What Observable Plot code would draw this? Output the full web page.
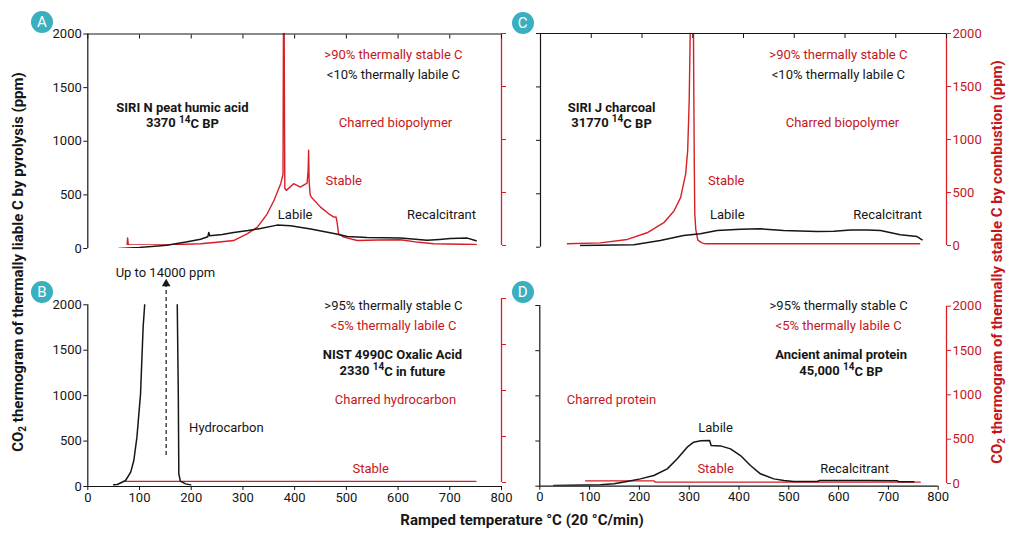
<!DOCTYPE html>
<html><head><meta charset="utf-8">
<script src="https://cdn.jsdelivr.net/npm/d3@7"></script>
<script src="https://cdn.jsdelivr.net/npm/@observablehq/plot@0.6"></script>
<style>
body{margin:0;background:#fff;}
#chart{position:relative;width:1013px;height:533px;font-family:Roboto,sans-serif;overflow:hidden;background:#fff;}
#chart svg{position:absolute;left:0;top:0;}
.title{position:absolute;font-weight:bold;font-size:15px;white-space:nowrap;transform:translate(-50%,-50%);}
.vt{transform:translate(-50%,-50%) rotate(-90deg);}
.badge{position:absolute;width:22px;height:22px;margin:-11px 0 0 -11px;border-radius:50%;background:#3aafbf;color:#fff;font-size:15px;text-align:center;line-height:22px;}
sub{font-size:10px;vertical-align:-3px;line-height:0;}
</style></head><body><div id="chart"></div>
<script>
// ---------- scales / ticks ----------
const temperatureTicks = [0, 100, 200, 300, 400, 500, 600, 700, 800];
const ppmTicks = [0, 500, 1000, 1500, 2000];

// ---------- Panel A: SIRI N peat humic acid ----------
const aPyroT = [60, 100, 153, 190, 218, 232, 234, 236, 260, 282, 310, 334, 366, 392, 431, 476, 502, 540, 605, 656, 680, 701, 734, 751];
const aPyroV = [0, 10, 30, 60, 87, 110, 150, 118, 130, 150, 168, 187, 218, 212, 181, 140, 112, 103, 97, 78, 85, 93, 97, 72];
const aCombT = [76, 77, 78, 79, 150, 218, 250, 282, 308, 328, 347, 360, 373, 377.5, 378.5, 379.5, 381, 384, 398, 411, 424, 426, 427, 428, 430, 432, 450, 466, 476, 480, 482, 485, 495, 521, 560, 605, 640, 669, 751];
const aCombV = [6, 72, 20, 8, 6, 16, 30, 47, 110, 173, 299, 425, 583, 670, 2300, 2300, 540, 520, 583, 551, 589, 700, 898, 600, 480, 457, 362, 299, 268, 270, 220, 110, 79, 47, 52, 54, 30, 16, 9];

// ---------- Panel B: NIST 4990C Oxalic Acid ----------
const bPyroT = [50, 57, 73, 83, 89, 95, 102, 107, 110, 150, 173, 175, 176, 179, 189, 199];
const bPyroV = [18, 22, 66, 158, 286, 543, 1020, 1754, 2000, 14000, 2000, 1020, 139, 59, 29, 18];
const bCombT = [73, 750];
const bCombV = [8, 8];
const bArrow = [{t: 151.5, from: 341, to: 2231}];

// ---------- Panel C: SIRI J charcoal ----------
const cPyroT = [79, 184, 236, 282, 315, 348, 394, 433, 479, 545, 578, 611, 644, 670, 709, 742, 752];
const cPyroV = [16, 22, 62, 109, 125, 156, 169, 172, 156, 147, 150, 162, 162, 156, 116, 100, 69];
const cCombT = [53, 118, 171, 210, 243, 263, 276, 286, 290, 293, 295, 297, 301, 302, 303, 304, 306, 310, 318, 325, 500, 747];
const cCombV = [16, 25, 57, 120, 215, 325, 452, 673, 894, 1368, 2000, 2400, 2400, 1500, 800, 300, 150, 50, 25, 16, 16, 16];

// ---------- Panel D: Ancient animal protein ----------
const dPyroT = [28, 122, 149, 175, 202, 229, 256, 276, 296, 309, 323, 341, 343, 344, 363, 383, 403, 423, 443, 470, 490, 510, 557, 562, 657, 718, 721, 751];
const dPyroV = [7, 15, 26, 52, 81, 118, 192, 303, 432, 487, 502, 505, 470, 450, 446, 413, 339, 229, 137, 81, 63, 52, 52, 63, 63, 59, 48, 48];
const dCombT = [92, 229, 232, 764];
const dCombV = [30, 30, 15, 15];

// ---------- annotations (text, °C, ppm) ----------
const aRedNotes = [[">90% thermally stable C", 591, 1805], ["Charred biopolymer", 595, 1172], ["Stable", 495, 633]];
const aInkNotes = [["<10% thermally labile C", 591, 1619], ["Labile", 401, 316], ["Recalcitrant", 684, 316]];
const aBoldNotes = [["SIRI N peat humic acid", 183, 1312], ["3370 ¹⁴C BP", 183, 1172]];
const cRedNotes = [[">90% thermally stable C", 587, 1803], ["Charred biopolymer", 595, 1167], ["Stable", 366, 624]];
const cInkNotes = [["<10% thermally labile C", 587, 1616], ["Labile", 368, 306], ["Recalcitrant", 684, 306]];
const cBoldNotes = [["SIRI J charcoal", 140, 1307], ["31770 ¹⁴C BP", 140, 1167]];
const bRedNotes = [["<5% thermally labile C", 591, 1772], ["Charred hydrocarbon", 595, 958], ["Stable", 547, 198]];
const bInkNotes = [[">95% thermally stable C", 591, 1992], ["Hydrocarbon", 268, 649], ["Up to 14000 ppm", 150, 2356]];
const bBoldNotes = [["NIST 4990C Oxalic Acid", 589, 1453], ["2330 ¹⁴C in future", 589, 1277]];
const dRedNotes = [["<5% thermally labile C", 600, 1779], ["Charred protein", 144, 960], ["Stable", 353, 196]];
const dInkNotes = [[">95% thermally stable C", 600, 2000], ["Labile", 353, 650], ["Recalcitrant", 632, 196]];
const dBoldNotes = [["Ancient animal protein", 605, 1458], ["45,000 ¹⁴C BP", 605, 1281]];

// ---------- rendering ----------
const chart = document.getElementById("chart");
const RED = "#d71f26", RED_TEXT = "#c4161c", INK = "#161616";
const series = (T, V) => T.map((t, i) => ({t, v: V[i]}));
const notes = (arr) => arr.map(([label, t, v]) => ({label, t, v}));
const fmt = (d) => String(d);
const blank = () => "";

function supers(svg) {
  d3.select(svg).selectAll("text").each(function () {
    const s = this.textContent;
    if (!s.includes("¹⁴")) return;
    const [a, b] = s.split("¹⁴");
    const t = d3.select(this);
    t.text(null);
    t.append("tspan").text(a);
    t.append("tspan").attr("dy", "-0.42em").attr("font-size", "10").text("14");
    t.append("tspan").attr("dy", "0.42em").text(b);
  });
}

function layer(frame, xMax, marks) {
  const svg = Plot.plot({
    width: 1013, height: 533,
    marginLeft: frame[0], marginRight: 1013 - frame[1],
    marginTop: frame[2], marginBottom: 533 - frame[3],
    x: {domain: [0, xMax], axis: null},
    y: {domain: [0, 2000], axis: null},
    style: {background: "transparent", fontFamily: "Roboto", fontSize: "13px", overflow: "visible", color: INK},
    marks
  });
  supers(svg);
  chart.appendChild(svg);
}

function textMarks(red, ink, bold) {
  return [
    Plot.text(notes(red), {x: "t", y: "v", text: "label", fill: RED_TEXT, fontSize: 13}),
    Plot.text(notes(ink), {x: "t", y: "v", text: "label", fill: INK, fontSize: 13}),
    Plot.text(notes(bold), {x: "t", y: "v", text: "label", fill: INK, fontSize: 13, fontWeight: "bold"})
  ];
}

function pyroLayer(frame, data, {labels, top, bottom, extra = [], annot}) {
  const marks = [
    Plot.ruleX([0], {stroke: INK, strokeWidth: 1.2}),
    Plot.axisY({ticks: ppmTicks, anchor: "left", tickSize: 4, tickPadding: 2, label: null, tickFormat: labels ? fmt : blank, color: INK})
  ];
  if (top) marks.push(
    Plot.ruleY([2000], {stroke: INK, strokeWidth: 1.2}),
    Plot.axisX({ticks: temperatureTicks, anchor: "top", tickSize: -4, label: null, tickFormat: blank, color: INK})
  );
  if (bottom) marks.push(
    Plot.ruleY([0], {stroke: INK, strokeWidth: 1.2}),
    Plot.axisX({ticks: temperatureTicks, anchor: "bottom", tickSize: 4, tickPadding: 2, label: null, tickFormat: fmt, color: INK})
  );
  marks.push(Plot.line(data, {x: "t", y: "v", stroke: INK, strokeWidth: 1.5, clip: true}));
  marks.push(...extra, ...annot);
  layer(frame, 800, marks);
}

function combLayer(frame, xMax, data, {labels, width = 1.4}) {
  layer(frame, xMax, [
    Plot.ruleX([xMax], {stroke: RED, strokeWidth: 1.3}),
    Plot.axisY({ticks: ppmTicks, anchor: "right", tickSize: 4, tickPadding: 2, label: null, tickFormat: labels ? fmt : blank, color: RED_TEXT, stroke: RED}),
    Plot.line(data, {x: "t", y: "v", stroke: RED, strokeWidth: width, clip: true})
  ]);
}

// Panel A
combLayer([87.3, 501, 33, 245], 800, series(aCombT, aCombV), {labels: false});
pyroLayer([87.3, 501, 33.5, 248], series(aPyroT, aPyroV), {labels: true, top: true, bottom: false, annot: textMarks(aRedNotes, aInkNotes, aBoldNotes)});
// Panel C
combLayer([540, 946, 33, 245], 800, series(cCombT, cCombV), {labels: true});
pyroLayer([540, 946, 33, 246.7], series(cPyroT, cPyroV), {labels: false, top: true, bottom: false, annot: textMarks(cRedNotes, cInkNotes, cBoldNotes)});
// Panel B
combLayer([87.3, 501, 298, 482], 800, series(bCombT, bCombV), {labels: false, width: 2});
pyroLayer([87.3, 501, 304.3, 486], series(bPyroT, bPyroV), {labels: true, top: false, bottom: true,
  extra: [
    Plot.ruleX(bArrow, {x: "t", y1: "from", y2: "to", stroke: INK, strokeWidth: 1.2, strokeDasharray: "4,3"}),
    Plot.dot(bArrow, {x: "t", y: "to", symbol: "triangle", r: 3.2, fill: INK, stroke: "none"})
  ],
  annot: textMarks(bRedNotes, bInkNotes, bBoldNotes)});
// Panel D (red axis sits slightly right of the 800 °C end of the x axis)
combLayer([539.3, 946, 305.7, 483], 816.7, series(dCombT, dCombV), {labels: true});
pyroLayer([539.3, 937.7, 305, 485.7], series(dPyroT, dPyroV), {labels: false, top: false, bottom: true, annot: textMarks(dRedNotes, dInkNotes, dBoldNotes)});

// Titles and panel badges
function html(cls, x, y, inner, color) {
  const el = document.createElement("div");
  el.className = cls;
  el.style.left = x + "px"; el.style.top = y + "px";
  if (color) el.style.color = color;
  el.innerHTML = inner;
  chart.appendChild(el);
}
html("title vt", 18, 262, "CO<sub>2</sub> thermogram of thermally liable C by pyrolysis (ppm)", INK);
html("title vt", 997, 262, "CO<sub>2</sub> thermogram of thermally stable C by combustion (ppm)", RED_TEXT);
html("title", 522, 520, "Ramped temperature °C (20 °C/min)", INK);
[["A", 42, 22], ["B", 42, 292], ["C", 522.7, 22.7], ["D", 522.7, 292]].forEach(([l, x, y]) => html("badge", x, y, l));
</script></body></html>
